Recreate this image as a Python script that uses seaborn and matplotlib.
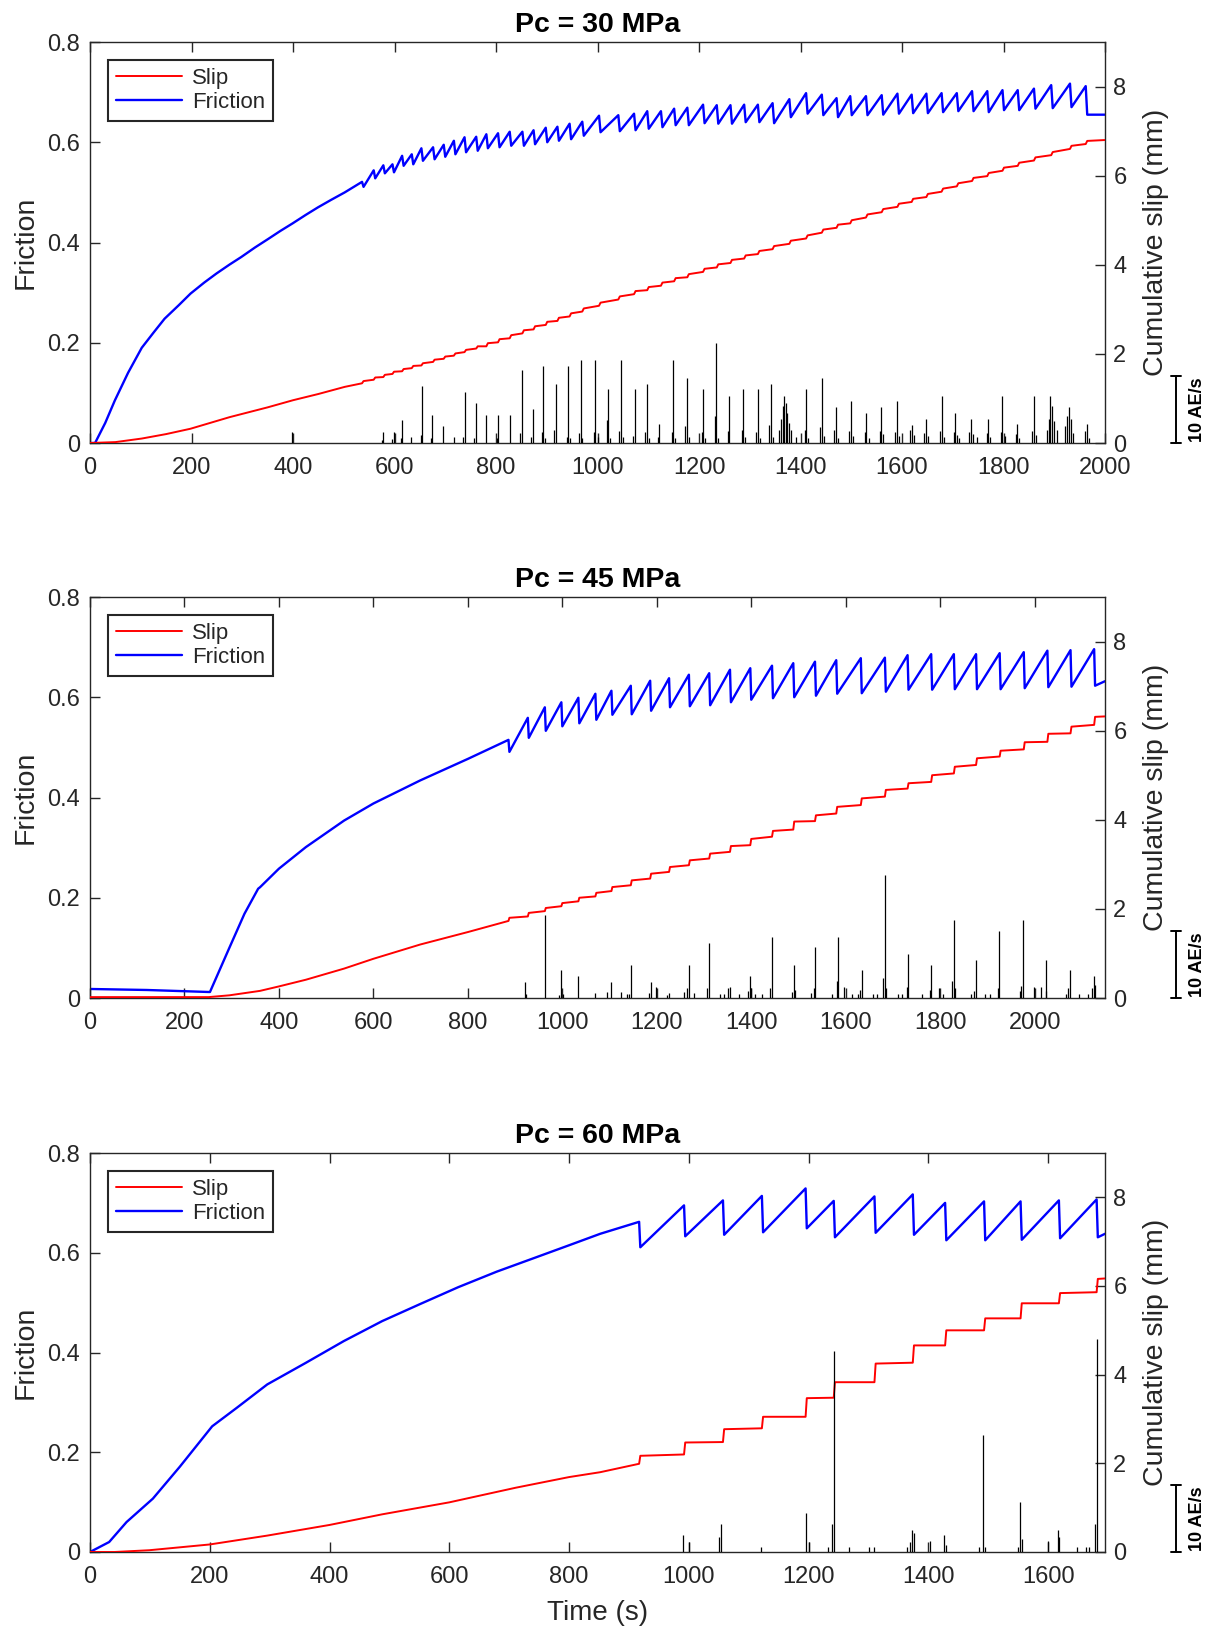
import numpy as np
import pandas as pd
import matplotlib
matplotlib.use("Agg")
import matplotlib.pyplot as plt
import matplotlib.transforms as mtransforms
import seaborn as sns

# ------------------------------------------------------------------ data
titles = ["Pc = 30 MPa", "Pc = 45 MPa", "Pc = 60 MPa"]
x_max = [2000, 2149, 1695]
x_ticks = [list(range(0, 2001, 200)), list(range(0, 2001, 200)), list(range(0, 1601, 200))]
fric_ticks = [0, 0.2, 0.4, 0.6, 0.8]
fric_tick_labels = ["0", "0.2", "0.4", "0.6", "0.8"]
slip_ticks = [0, 2, 4, 6, 8]

# ---- Pc = 30 MPa
fric1_pre_t = [0, 10, 30, 49, 75, 102, 125, 147, 175, 198, 225, 249, 275, 298, 325, 351, 375, 399,
               425, 449, 475, 502]
fric1_pre_v = [0.0, 0.0, 0.04, 0.085, 0.14, 0.19, 0.22, 0.248, 0.275, 0.298, 0.320, 0.338, 0.356,
               0.371, 0.390, 0.407, 0.423, 0.438, 0.455, 0.470, 0.485, 0.50]
slip1_pre_t = [0, 50, 102, 150, 198, 275, 350, 400, 450, 502]
slip1_pre_v = [0.0, 0.02, 0.1, 0.2, 0.32, 0.58, 0.80, 0.96, 1.10, 1.26]
events1_t = [536, 559, 578, 596, 615, 634, 653, 676, 697, 717, 738, 761, 781, 804, 827, 852, 874,
             898, 921, 945, 970, 1003, 1041, 1072, 1098, 1125, 1151, 1177, 1208, 1235, 1262, 1289,
             1316, 1345, 1378, 1411, 1442, 1471, 1498, 1529, 1560, 1591, 1619, 1648, 1678, 1708,
             1738, 1768, 1798, 1828, 1860, 1894, 1931, 1962]
peak1 = [0.521, 0.544, 0.554, 0.556, 0.573, 0.576, 0.588, 0.590, 0.595, 0.603, 0.610, 0.611, 0.616,
         0.618, 0.621, 0.621, 0.624, 0.629, 0.631, 0.637, 0.641, 0.653, 0.654, 0.657, 0.662, 0.662,
         0.667, 0.669, 0.675, 0.674, 0.674, 0.675, 0.675, 0.678, 0.686, 0.698, 0.695, 0.688, 0.692,
         0.692, 0.694, 0.697, 0.695, 0.697, 0.698, 0.698, 0.702, 0.702, 0.704, 0.704, 0.707, 0.714,
         0.717, 0.712]
trough1 = [0.511, 0.528, 0.538, 0.540, 0.553, 0.556, 0.563, 0.566, 0.571, 0.576, 0.580, 0.583, 0.588,
           0.590, 0.593, 0.593, 0.596, 0.600, 0.603, 0.606, 0.613, 0.620, 0.622, 0.624, 0.627, 0.630,
           0.634, 0.634, 0.638, 0.637, 0.637, 0.640, 0.640, 0.638, 0.650, 0.657, 0.654, 0.650, 0.654,
           0.654, 0.655, 0.657, 0.658, 0.658, 0.660, 0.662, 0.662, 0.660, 0.664, 0.664, 0.667, 0.668,
           0.670, 0.655]
slip1_before = [1.34, 1.42, 1.48, 1.55, 1.61, 1.68, 1.74, 1.82, 1.89, 1.96, 2.04, 2.12, 2.17, 2.26,
                2.35, 2.46, 2.55, 2.65, 2.74, 2.84, 2.95, 3.08, 3.22, 3.34, 3.43, 3.53, 3.63, 3.72,
                3.84, 3.94, 4.04, 4.14, 4.24, 4.35, 4.47, 4.59, 4.72, 4.83, 4.93, 5.06, 5.18, 5.30,
                5.41, 5.52, 5.64, 5.76, 5.88, 5.99, 6.11, 6.22, 6.34, 6.46, 6.60, 6.71]
slip1_after = [1.39, 1.47, 1.53, 1.60, 1.66, 1.73, 1.79, 1.87, 1.94, 2.01, 2.09, 2.17, 2.24, 2.33,
               2.42, 2.53, 2.62, 2.72, 2.81, 2.91, 3.02, 3.15, 3.29, 3.41, 3.50, 3.60, 3.70, 3.79,
               3.91, 4.01, 4.11, 4.21, 4.31, 4.42, 4.54, 4.66, 4.79, 4.90, 5.00, 5.13, 5.25, 5.37,
               5.48, 5.59, 5.71, 5.83, 5.95, 6.06, 6.18, 6.29, 6.41, 6.53, 6.67, 6.78]
fric1_end = (2000, 0.655)
slip1_end = (2000, 6.80)
ae1_t = [399, 578, 599, 615, 632, 655, 674, 696, 717, 738, 760, 781, 804, 827, 851, 872, 893, 918,
         942, 967, 996, 1021, 1046, 1073, 1097, 1122, 1149, 1176, 1208, 1234, 1260, 1287, 1316,
         1341, 1368, 1411, 1442, 1469, 1499, 1530, 1559, 1590, 1619, 1647, 1678, 1705, 1735, 1770,
         1798, 1827, 1860, 1892, 1929, 1964,
         575, 596, 612, 652, 671, 735, 757, 801, 848, 869, 890, 896, 915, 939, 945, 964, 970, 993,
         1000, 1018, 1025, 1043, 1050, 1070, 1094, 1101, 1119, 1146, 1152, 1173, 1180, 1205, 1212,
         1231, 1238, 1257, 1284, 1290, 1313, 1320, 1338, 1345, 1358, 1362, 1365, 1371, 1374, 1378,
         1382, 1392, 1408, 1415, 1439, 1446, 1466, 1473, 1496, 1503, 1527, 1534, 1556, 1563, 1587,
         1594, 1616, 1623, 1644, 1651, 1675, 1682, 1702, 1709, 1713, 1732, 1740, 1748, 1767, 1774,
         1795, 1802, 1824, 1831, 1857, 1864, 1885, 1889, 1896, 1900, 1905, 1922, 1926, 1933, 1937,
         1961, 1968]
ae1_h = [1.6, 1.7, 1.7, 3.4, 0.9, 8.4, 4.1, 2.5, 0.9, 7.6, 5.9, 4.1, 4.1, 4.1, 10.8, 5.0, 11.4, 8.8,
         11.4, 12.3, 12.3, 8.0, 12.3, 8.0, 8.8, 2.8, 12.3, 9.6, 8.0, 14.9, 7.0, 8.0, 8.0, 8.8, 7.0,
         8.0, 9.6, 5.3, 6.3, 4.5, 5.3, 6.3, 2.7, 3.6, 7.0, 4.5, 3.6, 3.6, 7.0, 2.8, 7.0, 7.0, 5.3, 2.8,
         0.5, 0.6, 0.8, 1.2, 0.8, 0.9, 0.7, 0.8, 1.5, 0.9, 1.7, 0.8, 2.0, 0.9, 0.7, 1.5, 0.8, 1.7,
         0.9, 3.4, 0.8, 1.8, 0.9, 1.0, 1.6, 0.8, 0.9, 1.7, 0.8, 2.5, 0.9, 1.6, 0.8, 4.0, 0.8, 1.8,
         1.9, 0.9, 1.6, 0.8, 2.6, 0.9, 2.0, 3.5, 5.5, 6.0, 4.5, 3.0, 2.0, 0.9, 2.0, 0.8, 2.3, 1.0,
         2.0, 0.8, 1.8, 1.0, 1.6, 0.8, 1.8, 1.4, 1.6, 1.0, 2.0, 1.2, 1.5, 1.0, 1.8, 0.9, 1.7, 1.2,
         0.8, 1.6, 1.4, 0.9, 1.5, 0.9, 1.7, 1.0, 1.3, 0.8, 1.8, 1.2, 2.0, 3.5, 5.5, 3.2, 2.0, 2.5,
         4.0, 3.5, 1.5, 1.8, 0.8]

# ---- Pc = 45 MPa
fric2_pre_t = [0, 120, 251, 254, 295, 327, 356, 360, 400, 457, 538, 600, 699, 800]
fric2_pre_v = [0.018, 0.016, 0.012, 0.012, 0.10, 0.168, 0.218, 0.221, 0.258, 0.301, 0.354, 0.388,
               0.434, 0.477]
slip2_pre_t = [0, 251, 295, 360, 400, 457, 538, 600, 699, 800]
slip2_pre_v = [0.02, 0.02, 0.06, 0.16, 0.26, 0.41, 0.66, 0.88, 1.20, 1.48]
events2_t = [886, 927, 963, 998, 1034, 1070, 1104, 1145, 1186, 1226, 1268, 1311, 1355, 1398, 1444,
             1489, 1535, 1580, 1632, 1683, 1731, 1781, 1829, 1876, 1926, 1977, 2027, 2076, 2126]
peak2 = [0.515, 0.559, 0.580, 0.590, 0.599, 0.607, 0.613, 0.623, 0.633, 0.638, 0.645, 0.648, 0.655,
         0.658, 0.663, 0.668, 0.671, 0.674, 0.678, 0.679, 0.684, 0.686, 0.686, 0.686, 0.688, 0.690,
         0.693, 0.694, 0.696]
trough2 = [0.491, 0.519, 0.533, 0.542, 0.548, 0.555, 0.565, 0.566, 0.573, 0.580, 0.582, 0.584, 0.590,
           0.595, 0.598, 0.600, 0.603, 0.607, 0.608, 0.611, 0.615, 0.615, 0.616, 0.616, 0.616, 0.618,
           0.620, 0.621, 0.623]
slip2_before = [1.73, 1.83, 1.95, 2.06, 2.17, 2.28, 2.40, 2.53, 2.68, 2.83, 2.98, 3.13, 3.28, 3.43,
                3.62, 3.78, 3.97, 4.14, 4.33, 4.52, 4.70, 4.85, 5.04, 5.23, 5.42, 5.58, 5.75, 5.94,
                6.13]
slip2_after = [1.80, 1.91, 2.02, 2.13, 2.25, 2.36, 2.49, 2.64, 2.79, 2.94, 3.09, 3.24, 3.41, 3.57,
               3.75, 3.96, 4.10, 4.29, 4.48, 4.67, 4.82, 5.00, 5.19, 5.38, 5.55, 5.74, 5.93, 6.09,
               6.31]
fric2_end = (2149, 0.632)
slip2_end = (2149, 6.32)
ae2_t = [920, 964, 998, 1034, 1070, 1104, 1145, 1187, 1199, 1225, 1268, 1310, 1354, 1397, 1443,
         1490, 1535, 1583, 1634, 1683, 1732, 1781, 1829, 1875, 1925, 1975, 2025, 2075, 2125,
         924, 994, 1001, 1094, 1125, 1138, 1141, 1183, 1222, 1258, 1264, 1278, 1306, 1333, 1343,
         1350, 1374, 1394, 1400, 1409, 1422, 1439, 1486, 1493, 1526, 1532, 1570, 1581, 1597, 1613,
         1625, 1630, 1658, 1666, 1680, 1686, 1710, 1719, 1730, 1761, 1778, 1798, 1806, 1825, 1832,
         1865, 1872, 1894, 1905, 1922, 1969, 1972, 1998, 2013, 2024, 2066, 2070, 2093, 2113, 2121,
         2128]
ae2_h = [2.4, 12.3, 4.1, 3.2, 0.8, 2.4, 4.9, 2.4, 1.6, 0.8, 4.9, 8.2, 1.6, 3.2, 9.1, 4.9, 7.5, 9.1,
         4.1, 18.2, 6.6, 4.9, 11.5, 5.7, 10.0, 11.5, 5.7, 4.1, 3.2,
         0.6, 0.5, 0.6, 0.9, 0.9, 0.6, 0.6, 0.7, 0.5, 0.9, 1.5, 0.7, 1.5, 0.6, 0.6, 1.5, 0.6, 1.0,
         1.5, 0.6, 0.6, 1.5, 0.9, 1.2, 0.8, 1.5, 0.6, 2.5, 1.6, 0.6, 0.6, 1.2, 0.6, 0.6, 3.0, 1.5,
         0.6, 0.6, 1.6, 0.6, 1.2, 1.5, 0.6, 2.5, 1.5, 0.6, 1.0, 0.6, 0.6, 1.5, 1.0, 1.8, 1.6, 1.6,
         1.0, 0.6, 1.5, 0.6, 0.6, 1.5, 2.0]

# ---- Pc = 60 MPa
fric3_pre_t = [0, 32, 61, 105, 150, 204, 245, 296, 360, 424, 488, 551, 615, 679, 743, 800, 852]
fric3_pre_v = [0.0, 0.020, 0.060, 0.107, 0.171, 0.252, 0.289, 0.336, 0.379, 0.423, 0.463, 0.497,
               0.531, 0.562, 0.590, 0.615, 0.638]
slip3_pre_t = [0, 41, 99, 200, 296, 400, 488, 600, 711, 800, 852]
slip3_pre_v = [0.0, 0.0, 0.04, 0.17, 0.37, 0.61, 0.85, 1.12, 1.45, 1.69, 1.80]
events3_t = [917, 992, 1057, 1122, 1195, 1242, 1310, 1374, 1428, 1493, 1554, 1618, 1681]
peak3 = [0.662, 0.695, 0.705, 0.714, 0.729, 0.704, 0.713, 0.717, 0.700, 0.703, 0.703, 0.705, 0.707]
trough3 = [0.611, 0.633, 0.636, 0.641, 0.649, 0.631, 0.640, 0.636, 0.625, 0.625, 0.626, 0.629, 0.631]
slip3_before = [1.99, 2.20, 2.48, 2.79, 3.05, 3.48, 3.83, 4.27, 4.66, 5.00, 5.27, 5.61, 5.86]
slip3_after = [2.17, 2.47, 2.77, 3.05, 3.47, 3.83, 4.25, 4.66, 5.00, 5.27, 5.61, 5.84, 6.16]
fric3_end = (1695, 0.638)
slip3_end = (1695, 6.17)
ae3_t = [990, 1000, 1050, 1053, 1120, 1195, 1200, 1232, 1239, 1242, 1268, 1301, 1310, 1364, 1372,
         1376, 1402, 1426, 1484, 1491, 1550, 1553, 1600, 1616, 1649, 1664, 1668, 1678, 1681,
         1370, 1429, 1494, 1556, 1619]
ae3_h = [2.5, 1.5, 2.2, 4.2, 0.8, 5.8, 1.5, 0.8, 4.2, 30.0, 0.8, 0.8, 0.8, 0.8, 3.3, 2.9, 1.7, 2.5,
         0.8, 17.4, 0.8, 7.4, 1.7, 3.3, 0.8, 0.8, 0.8, 4.2, 31.7,
         1.5, 1.0, 0.8, 2.0, 2.2]

panels = [
    dict(fp=(fric1_pre_t, fric1_pre_v), sp=(slip1_pre_t, slip1_pre_v), ev=events1_t, pk=peak1,
         tr=trough1, sb=slip1_before, sa=slip1_after, fe=fric1_end, se=slip1_end, ae=(ae1_t, ae1_h),
         dt=3),
    dict(fp=(fric2_pre_t, fric2_pre_v), sp=(slip2_pre_t, slip2_pre_v), ev=events2_t, pk=peak2,
         tr=trough2, sb=slip2_before, sa=slip2_after, fe=fric2_end, se=slip2_end, ae=(ae2_t, ae2_h),
         dt=2),
    dict(fp=(fric3_pre_t, fric3_pre_v), sp=(slip3_pre_t, slip3_pre_v), ev=events3_t, pk=peak3,
         tr=trough3, sb=slip3_before, sa=slip3_after, fe=fric3_end, se=slip3_end, ae=(ae3_t, ae3_h),
         dt=2),
]


def series(pre, ev, hi, lo, end, dt):
    t, v = list(pre[0]), list(pre[1])
    for te, a, b in zip(ev, hi, lo):
        t += [te, te + dt]
        v += [a, b]
    t.append(end[0])
    v.append(end[1])
    return pd.DataFrame({"t": t, "v": v})


# ------------------------------------------------------------------ style
sns.set_theme(style="white")
plt.rcParams["font.family"] = ["Liberation Sans", "DejaVu Sans"]
plt.rcParams.update({
    "axes.edgecolor": "0.15",
    "axes.linewidth": 1.0,
    "text.color": "0.15",
    "axes.labelcolor": "0.15",
    "xtick.color": "0.15",
    "ytick.color": "0.15",
})

W, H = 1212, 1627
fig = plt.figure(figsize=(W / 100, H / 100), dpi=100)
left, right = 90, 1105
tops = [42, 597, 1153]
bottoms = [443, 998, 1552]

AE_MAX = 59.5
TICK_FS = 17
LABEL_FS = 20.5

for i, p in enumerate(panels):
    ax = fig.add_axes([left / W, 1 - bottoms[i] / H, (right - left) / W, (bottoms[i] - tops[i]) / H])
    ax2 = ax.twinx()
    ax3 = ax.twinx()

    fdf = series(p["fp"], p["ev"], p["pk"], p["tr"], p["fe"], p["dt"])
    sdf = series(p["sp"], p["ev"], p["sb"], p["sa"], p["se"], p["dt"])

    sns.lineplot(data=fdf, x="t", y="v", ax=ax, color="#0000ff", lw=1.7,
                 estimator=None, sort=False, legend=False)
    sns.lineplot(data=sdf, x="t", y="v", ax=ax2, color="#ff0000", lw=1.4,
                 estimator=None, sort=False, legend=False)
    ax3.vlines(p["ae"][0], 0, p["ae"][1], color="black", lw=0.9)

    xm = x_max[i]
    for a in (ax, ax2, ax3):
        a.set_xlim(0, xm)
    ax.set_ylim(0, 0.8)
    ax2.set_ylim(0, 9)
    ax3.set_ylim(0, AE_MAX)

    ax.set_xticks(x_ticks[i])
    ax.set_xticklabels([str(v) for v in x_ticks[i]])
    ax.set_yticks(fric_ticks)
    ax.set_yticklabels(fric_tick_labels)
    ax2.set_yticks(slip_ticks)
    ax2.set_yticklabels([str(v) for v in slip_ticks])
    ax3.set_yticks([])

    ax.tick_params(axis="x", direction="in", length=7.5, width=1.0, top=True, bottom=True,
                   labelsize=TICK_FS, pad=10)
    ax.tick_params(axis="y", direction="in", length=7.5, width=1.0, left=True, right=False,
                   labelsize=TICK_FS, pad=7)
    ax2.tick_params(axis="y", direction="in", length=7.5, width=1.0, right=True, left=False,
                    labelsize=TICK_FS, pad=6)
    for sp in ax3.spines.values():
        sp.set_visible(False)
    for sp in ax2.spines.values():
        sp.set_visible(False)
    for sp in ax.spines.values():
        sp.set_visible(True)
        sp.set_color("0.15")
        sp.set_linewidth(1.0)

    ax.set_xlabel("Time (s)" if i == 2 else "", fontsize=20, labelpad=9)
    ax.set_ylabel("Friction", fontsize=LABEL_FS, labelpad=6)
    ax2.set_ylabel("Cumulative slip (mm)", fontsize=LABEL_FS, labelpad=12)
    ax.set_title(titles[i], fontsize=20.5, fontweight="bold", color="black", pad=7)

    # scale bar for AE rate
    trans = mtransforms.blended_transform_factory(ax3.transAxes, ax3.transData)
    xb = (1176 - left) / (right - left)
    cap = 5 / (right - left)
    ax3.plot([xb, xb], [0, 10], color="black", lw=1.4, transform=trans, clip_on=False)
    ax3.plot([xb - cap, xb + cap], [0, 0], color="black", lw=1.4, transform=trans, clip_on=False)
    ax3.plot([xb - cap, xb + cap], [10, 10], color="black", lw=1.4, transform=trans, clip_on=False)
    ax3.text((1198 - left) / (right - left), 5, "10 AE/s", rotation=90, ha="center", va="center",
             fontsize=13, fontweight="bold", color="black", transform=trans)

    # legend
    h_slip = ax2.get_lines()[0]
    h_fric = ax.get_lines()[0]
    leg = ax3.legend([h_slip, h_fric], ["Slip", "Friction"], loc="upper left",
                     bbox_to_anchor=((108 - left) / (right - left),
                                     1 - (60 - 42) / (bottoms[0] - tops[0])),
                     borderaxespad=0, fancybox=False, framealpha=1, edgecolor="0.15",
                     fontsize=16, handlelength=3.0, handletextpad=0.45, borderpad=0.35,
                     labelspacing=0.15)
    leg.get_frame().set_linewidth(1.5)

fig.savefig("out.png", dpi=100, facecolor="white")
